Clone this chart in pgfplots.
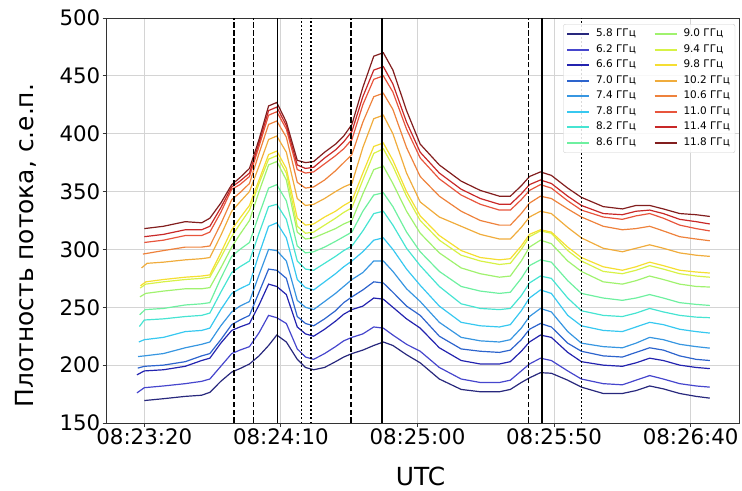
\documentclass[border=0pt]{standalone}
\usepackage{fontspec}
\setmainfont{DejaVu Sans}
\usepackage{pgfplots}
\pgfplotsset{compat=1.18}
\definecolor{c0}{RGB}{40,40,125}
\definecolor{c1}{RGB}{70,70,205}
\definecolor{c2}{RGB}{35,35,175}
\definecolor{c3}{RGB}{45,100,205}
\definecolor{c4}{RGB}{55,150,225}
\definecolor{c5}{RGB}{55,200,240}
\definecolor{c6}{RGB}{70,228,210}
\definecolor{c7}{RGB}{110,240,160}
\definecolor{c8}{RGB}{160,242,110}
\definecolor{c9}{RGB}{215,242,70}
\definecolor{c10}{RGB}{245,222,50}
\definecolor{c11}{RGB}{240,172,60}
\definecolor{c12}{RGB}{238,130,60}
\definecolor{c13}{RGB}{232,85,60}
\definecolor{c14}{RGB}{200,40,40}
\definecolor{c15}{RGB}{130,30,30}
\begin{document}
\begin{tikzpicture}
\useasboundingbox (0,0) rectangle (742bp,491bp);
\begin{axis}[
  at={(106bp,68bp)}, anchor=south west,
  scale only axis, width=633bp, height=405bp,
  xmin=5.98, xmax=237.7, ymin=150, ymax=500,
  xtick={20,70,120,170,220},
  xticklabels={08:23:20,08:24:10,08:25:00,08:25:50,08:26:40},
  ytick={150,200,250,300,350,400,450,500},
  grid=major, grid style={black!17, line width=0.8bp},
  axis line style={black!80, line width=0.8bp},
  tick pos=left, tick align=outside, major tick length=3.5bp,
  tick style={black!80, line width=0.8bp},
  ticklabel style={font=\fontsize{21.4}{25}\selectfont, inner sep=2bp},
  /pgf/number format/assume math mode=true,
  every axis plot/.append style={line width=1.2bp},
  legend columns=2,
  legend cell align=left,
  legend style={at={(rel axis cs:0.994,0.985)}, anchor=north east,
    font=\fontsize{10.5}{12}\selectfont,
    draw=black!20, rounded corners=2bp, fill=white, fill opacity=0.85, text opacity=1,
    inner xsep=3bp, inner ysep=3bp, row sep=1.5bp,
    nodes={inner sep=2bp, text height=7.5bp, text depth=2.5bp},
    /tikz/every odd column/.append style={column sep=4bp},
    /tikz/every even column/.append style={column sep=16bp}},
  legend image code/.code={\draw[#1, line width=1.6bp] (0bp,0bp) -- (22bp,0bp);},
]
% 5.8
\addplot[c0, forget plot] coordinates {(20,169.4) (27,171) (35,173) (41,174) (44,176.5) (48,186) (52,194) (55,197) (58.5,201) (62,208) (65.5,217) (68.5,226) (72,220) (76,205) (79,198) (82,196) (86,198) (90,203) (93,207) (96,210) (100,213) (104,217) (107.5,220) (111,217) (116,209) (121,202) (128,188) (136,179) (143,177) (150,177) (154,179) (158,185) (161,189) (165,193.5) (169,193) (175,187) (180,181) (188,175.5) (195,175.5) (200,178) (205,182) (210,179.5) (216,175.5) (222,173) (227,171.5)};
% 6.2
\addplot[c1, forget plot] coordinates {(17.3,176) (20,180.5) (27,182) (35,184) (41,186) (44,188) (48,199) (52,210) (55,213) (58.5,216) (62,228) (65.5,243) (68.5,241) (72,236) (76,214) (79,207) (82,205) (86,210) (90,216) (93,221) (96,224) (100,227) (104,233) (107.5,232) (111,226) (116,218) (121,212) (128,198) (136,188) (143,185) (150,185) (154,187) (158,195) (161,201) (165,206) (169,204) (175,195) (180,188) (188,184) (195,183) (200,187) (205,191) (210,188) (216,184) (222,182) (227,181)};
% 6.6
\addplot[c2, forget plot] coordinates {(17.3,191.6) (20,195) (27,196) (35,199) (41,204) (44,206) (48,219) (52,230) (55,233) (58.5,236) (62,252) (65.5,270) (68.5,268) (72,261) (76,233) (79,227) (82,225) (86,231) (90,238) (93,244) (96,248) (100,251) (104,258) (107.5,257) (111,250) (116,240) (121,232) (128,215) (136,204) (143,201) (150,201) (154,203) (158,212) (161,220) (165,226) (169,224) (175,211) (180,203) (188,200) (195,199) (200,202) (205,206) (210,204) (216,200) (222,198) (227,197)};
% 7.0
\addplot[c3, forget plot] coordinates {(17.6,197.4) (20,199) (27,200) (35,203) (41,208) (44,210) (48,222) (52,235) (55,239) (58.5,243) (62,263) (65.5,283) (68.5,282) (72,275) (76,242) (79,236) (82,234) (86,240) (90,247) (93,254) (96,259) (100,265) (104,272) (107.5,271) (111,263) (116,251) (121,243) (128,225) (136,214) (143,212) (150,211) (154,213) (158,222) (161,231) (165,236) (169,233) (175,219) (180,212) (188,208) (195,207) (200,211) (205,215) (210,213) (216,208) (222,205) (227,204)};
% 7.4
\addplot[c4, forget plot] coordinates {(17.7,207.4) (20,208) (27,210) (35,215) (41,218) (44,220) (48,234) (52,246) (55,251) (58.5,255) (62,278) (65.5,300) (68.5,299) (72,290) (76,256) (79,250) (82,248) (86,255) (90,262) (93,268) (96,274) (100,280) (104,290) (107.5,290) (111,281) (116,266) (121,255) (128,237) (136,224) (143,221) (150,220) (154,222) (158,232) (161,242) (165,249) (169,246) (175,229) (180,219) (188,216) (195,215) (200,219) (205,224) (210,222) (216,218) (222,216) (227,214.7)};
% 7.8
\addplot[c5, forget plot] coordinates {(18,220) (20,222) (27,224) (35,229) (41,230) (44,232) (48,248) (52,262) (55,266) (58.5,270) (62,296) (65.5,320) (68.5,323) (72,310) (76,274) (79,267) (82,265) (86,272) (90,279) (93,285) (96,290) (100,298) (104,308) (107.5,310) (111,300) (116,283) (121,269) (128,251) (136,237) (143,234) (150,233) (154,235) (158,247) (161,258) (165,265) (169,262) (175,243) (180,234) (188,230) (195,229) (200,233) (205,237) (210,235) (216,231) (222,229) (227,227.7)};
% 8.2
\addplot[c6, forget plot] coordinates {(18.2,233.4) (20,239) (27,240) (35,242) (41,243) (44,245) (48,263) (52,280) (55,285) (58.5,290) (62,314) (65.5,337) (68.5,339) (72,326) (76,290) (79,283) (82,282) (86,288) (90,294) (93,299) (96,303) (100,316) (104,331) (107.5,333) (111,321) (116,301) (121,286) (128,268) (136,253) (143,249) (150,248) (154,249) (158,260) (161,271) (165,277) (169,275) (175,258) (180,247) (188,243) (195,242) (200,245) (205,249) (210,246) (216,243) (222,241.5) (227,241)};
% 8.6
\addplot[c7, forget plot] coordinates {(18.3,243.5) (20.3,248) (27,249) (35,252) (41,253) (44,254) (48,275) (52,294) (55,300) (58.5,306) (62,330) (65.5,353) (68.5,356) (72,342) (76,303) (79,297) (82,298) (86,302) (90,307) (93,311) (96,315) (100,333) (104,347) (107.5,349) (111,337) (116,315) (121,298) (128,281) (136,268) (143,264) (150,262) (154,263) (158,275) (161,286) (165,291) (169,289) (175,273) (180,262) (188,258) (195,256) (200,258) (205,261) (210,258) (216,254) (222,252.5) (227,251.6)};
% 9.0
\addplot[c8, forget plot] coordinates {(18.4,259) (20.5,262) (27,264) (35,266) (41,266) (44,267) (48,284) (52,302) (55,313) (58.5,325) (62,350) (65.5,373) (68.5,376) (72,360) (76,315) (79,309) (82,310) (86,314) (90,318) (93,322) (96,325) (100,348) (104,369) (107.5,372) (111,357) (116,333) (121,314) (128,297) (136,284) (143,279) (150,276) (154,277) (158,290) (161,302) (165,308) (169,305) (175,290) (180,281) (188,272) (195,270) (200,273) (205,277) (210,274) (216,270) (222,268) (227,267.5)};
% 9.4
\addplot[c9, forget plot] coordinates {(18.5,266.6) (20.5,270) (27,272) (35,274) (41,275) (44,276) (48,293) (52,311) (55,322) (58.5,334) (62,357) (65.5,378) (68.5,381) (72,366) (76,320) (79,314) (82,315) (86,321) (90,327) (93,332) (96,336) (100,360) (104,383) (107.5,387) (111,372) (116,346) (121,325) (128,308) (136,295) (143,290) (150,287) (154,288) (158,300) (161,311) (165,316) (169,314) (175,299) (180,290) (188,281) (195,279) (200,282) (205,286) (210,283) (216,279) (222,277) (227,276)};
% 9.8
\addplot[c10, forget plot] coordinates {(18.6,268.6) (20.6,272) (27,274) (35,276) (41,277) (44,278) (48,297) (52,317) (55,327) (58.5,338) (62,360) (65.5,382) (68.5,385) (72,370) (76,327) (79,321) (82,322) (86,328) (90,333) (93,338) (96,342) (100,366) (104,389) (107.5,392) (111,377) (116,350) (121,329) (128,312) (136,299) (143,293) (150,291) (154,292) (158,303) (161,313) (165,317) (169,315) (175,302) (180,293) (188,285) (195,282) (200,285) (205,289) (210,286) (216,282) (222,280.5) (227,279.6)};
% 10.2
\addplot[c11, forget plot] coordinates {(19,284) (21,288) (27,289) (35,291) (41,292) (44,293) (48,312) (52,333) (55,341) (58.5,350) (62,372) (65.5,395) (68.5,398) (72,384) (76,344) (79,338) (82,339) (86,344) (90,350) (93,354) (96,357) (100,388) (104,413) (107.5,416) (111,400) (116,366) (121,341) (128,328) (136,320) (143,313) (150,309) (154,309) (158,319) (161,328) (165,333) (169,331) (175,319) (180,310) (188,301) (195,298) (200,301) (205,304) (210,301) (216,297) (222,295) (227,294)};
% 10.6
\addplot[c12, forget plot] coordinates {(19.5,296) (27,299) (35,302) (41,302) (44,303) (48,322) (52,343) (55,349) (58.5,357) (62,383) (65.5,408) (68.5,411) (72,397) (76,358) (79,353) (82,354) (86,360) (90,368) (93,375) (96,382) (100,410) (104,432) (107.5,435) (111,421) (116,388) (121,363) (128,346) (136,333) (143,325) (150,321) (154,321) (158,331) (161,340) (165,346) (169,344) (175,335) (180,328) (188,320) (195,317) (200,318) (205,320) (210,316) (216,311) (222,309) (227,307.5)};
% 11.0
\addplot[c13, forget plot] coordinates {(20,306) (27,308) (35,312) (41,312) (44,315) (48,332) (52,352) (55,356) (58.5,363) (62,389) (65.5,416) (68.5,419) (72,404) (76,369) (79,366) (82,367) (86,374) (90,381) (93,387) (96,395) (100,425) (104,447) (107.5,450) (111,436) (116,404) (121,379) (128,361) (136,347) (143,339) (150,334) (154,334) (158,343) (161,351) (165,356) (169,353) (175,342) (180,334) (188,328) (195,326) (200,329) (205,331) (210,327) (216,321) (222,318) (227,316)};
% 11.4
\addplot[c14, forget plot] coordinates {(20,311) (27,313) (35,317) (41,317) (44,320) (48,336) (52,354) (55,359) (58.5,366) (62,392) (65.5,420) (68.5,423) (72,407) (76,373) (79,370) (82,371) (86,379) (90,386) (93,393) (96,402) (100,432) (104,455) (107.5,458) (111,443) (116,410) (121,384) (128,366) (136,352) (143,344) (150,339) (154,339) (158,348) (161,356) (165,360) (169,357) (175,346) (180,338) (188,331) (195,330) (200,333) (205,334) (210,331) (216,326) (222,324) (227,322)};
% 11.8
\addplot[c15, forget plot] coordinates {(20,318) (27,320) (35,324) (41,323) (44,327) (48,340) (52,356) (55,362) (58.5,370) (62,395) (65.5,424) (68.5,427) (72,410) (76,377) (79,375) (82,376) (86,384) (90,391) (93,398) (96,408) (100,440) (104,467) (107.5,470) (111,455) (116,420) (121,391) (128,373) (136,359) (143,351) (150,346) (154,346) (158,355) (161,363) (165,367) (169,364) (175,353) (180,345) (188,337) (195,335) (200,338) (205,338) (210,335) (216,331) (222,330) (227,328.5)};
% vertical markers
\addplot[black, line width=1.5bp, dash pattern=on 5.5bp off 2.4bp, forget plot] coordinates {(52.9,150) (52.9,500)};
\addplot[black, line width=1.5bp, dash pattern=on 5.5bp off 2.4bp, forget plot] coordinates {(60.0,150) (60.0,500)};
\addplot[black, line width=1.5bp, dash pattern=on 5.5bp off 2.4bp, forget plot] coordinates {(95.7,150) (95.7,500)};
\addplot[black, line width=1.5bp, dash pattern=on 5.5bp off 2.4bp, forget plot] coordinates {(160.6,150) (160.6,500)};
\addplot[black, line width=1.5bp, forget plot] coordinates {(68.8,150) (68.8,500)};
\addplot[black, line width=1.5bp, forget plot] coordinates {(107.1,150) (107.1,500)};
\addplot[black, line width=1.5bp, forget plot] coordinates {(165.5,150) (165.5,500)};
\addplot[black, line width=1.5bp, dash pattern=on 1.5bp off 2.5bp, forget plot] coordinates {(77.6,150) (77.6,500)};
\addplot[black, line width=1.5bp, dash pattern=on 1.5bp off 2.5bp, forget plot] coordinates {(81.0,150) (81.0,500)};
\addplot[black, line width=1.5bp, dash pattern=on 1.5bp off 2.5bp, forget plot] coordinates {(180.1,150) (180.1,500)};
% legend (column-wise order as in the reference)
\addlegendimage{c0}\addlegendentry{5.8 ГГц}
\addlegendimage{c8}\addlegendentry{9.0 ГГц}
\addlegendimage{c1}\addlegendentry{6.2 ГГц}
\addlegendimage{c9}\addlegendentry{9.4 ГГц}
\addlegendimage{c2}\addlegendentry{6.6 ГГц}
\addlegendimage{c10}\addlegendentry{9.8 ГГц}
\addlegendimage{c3}\addlegendentry{7.0 ГГц}
\addlegendimage{c11}\addlegendentry{10.2 ГГц}
\addlegendimage{c4}\addlegendentry{7.4 ГГц}
\addlegendimage{c12}\addlegendentry{10.6 ГГц}
\addlegendimage{c5}\addlegendentry{7.8 ГГц}
\addlegendimage{c13}\addlegendentry{11.0 ГГц}
\addlegendimage{c6}\addlegendentry{8.2 ГГц}
\addlegendimage{c14}\addlegendentry{11.4 ГГц}
\addlegendimage{c7}\addlegendentry{8.6 ГГц}
\addlegendimage{c15}\addlegendentry{11.8 ГГц}
\end{axis}
\node[rotate=90, anchor=base, font=\fontsize{25}{30}\selectfont] at (33bp,245.5bp) {Плотность потока, с.е.п.};
\node[anchor=base, font=\fontsize{25}{30}\selectfont] at (420.5bp,6bp) {UTC};
\end{tikzpicture}
\end{document}
